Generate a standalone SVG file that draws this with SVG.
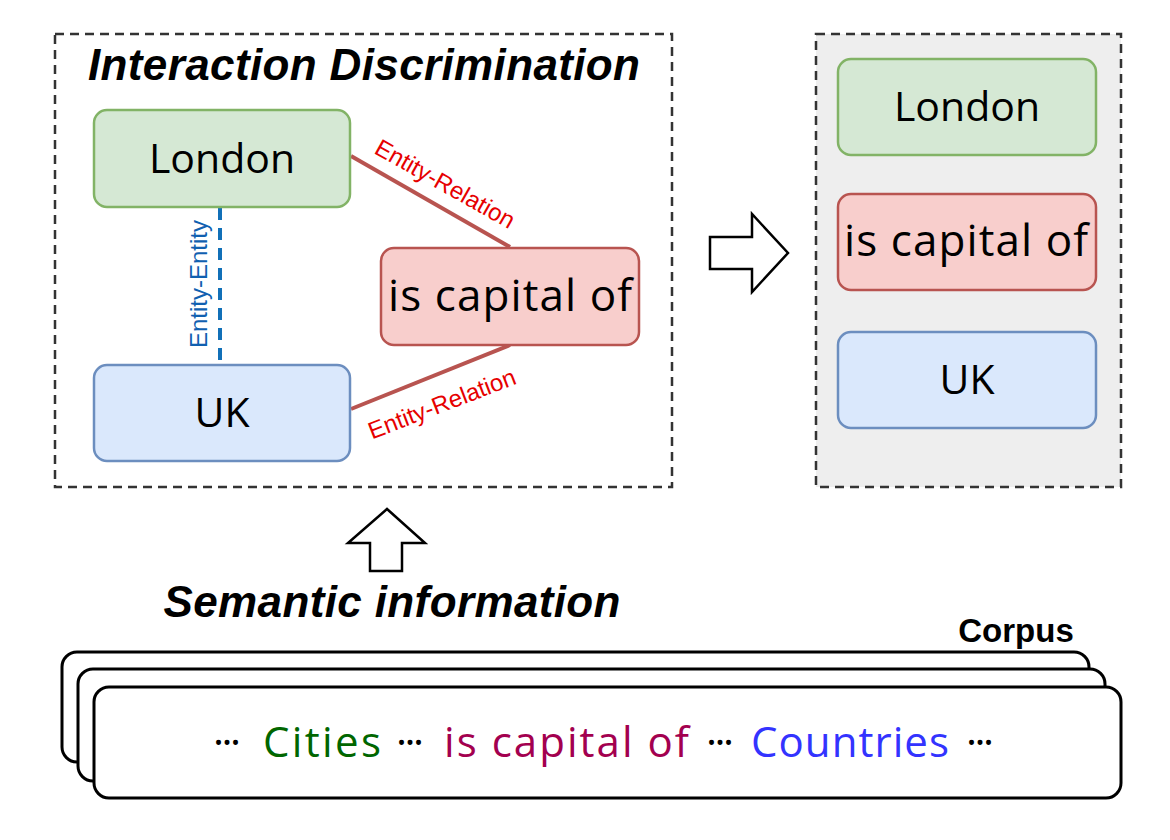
<svg xmlns="http://www.w3.org/2000/svg" width="1170" height="840" viewBox="0 0 1170 840">
<style>
.frame{fill:none;stroke:#333;stroke-width:2.5;stroke-dasharray:9 6}
.green{fill:#d5e8d4;stroke:#82b366;stroke-width:2.5}
.red{fill:#f8cecc;stroke:#b85450;stroke-width:2.5}
.blue{fill:#dae8fc;stroke:#6c8ebf;stroke-width:2.5}
.node{font-family:"Open Sans","Noto Sans",sans-serif;font-size:41px;fill:#000;text-anchor:middle}
.big{font-size:44px}
.head{font-family:"Liberation Sans",Arial,sans-serif;font-weight:bold;font-style:italic;font-size:44px;fill:#000;text-anchor:middle}
.elab{font-family:"Liberation Sans",Arial,sans-serif;font-size:24px;text-anchor:middle}
.arrow{fill:#fff;stroke:#000;stroke-width:2.5;stroke-linejoin:miter}
.sheet{fill:#fff;stroke:#000;stroke-width:3}
.corp{font-family:"Open Sans","Noto Sans",sans-serif;font-size:42px}
</style>
<rect width="1170" height="840" fill="#fff"/>

<g id="left-frame">
<rect class="frame" x="55" y="34" width="617" height="453"/>
<text class="head" x="364" y="80" textLength="552">Interaction Discrimination</text>
</g>

<g id="connectors">
<line x1="351" y1="156" x2="510" y2="247" stroke="#b85450" stroke-width="4"/>
<line x1="351" y1="409" x2="510" y2="345" stroke="#b85450" stroke-width="4"/>
<line x1="220" y1="208" x2="220" y2="365" stroke="#1170b8" stroke-width="4" stroke-dasharray="12 8"/>
<text class="elab" fill="#e60000" transform="translate(445 184) rotate(29.4)" y="8">Entity-Relation</text>
<text class="elab" fill="#e60000" transform="translate(442 404) rotate(-21)" y="8">Entity-Relation</text>
<text class="elab" fill="#1060b0" transform="translate(199 284) rotate(-90)" y="8">Entity-Entity</text>
</g>

<g id="london">
<rect class="green" x="94" y="110" width="256" height="97" rx="13"/>
<text class="node" x="222" y="173">London</text>
</g>
<g id="uk">
<rect class="blue" x="94" y="365" width="256" height="96" rx="13"/>
<text class="node" x="222" y="427">UK</text>
</g>
<g id="is-capital-of">
<rect class="red" x="381" y="248" width="258" height="97" rx="13"/>
<text class="node big" x="510" y="311" textLength="244">is capital of</text>
</g>

<g id="arrow-right">
<polygon class="arrow" points="710,237 752,237 752,214 788,253 752,292 752,269 710,269"/>
</g>

<g id="right-frame">
<rect x="816" y="34" width="305" height="453" fill="#eeeeee" stroke="#333" stroke-width="2.5" stroke-dasharray="9 6"/>
</g>
<g id="r-london">
<rect class="green" x="838" y="59" width="258" height="96" rx="13"/>
<text class="node" x="967" y="121">London</text>
</g>
<g id="r-is-capital-of">
<rect class="red" x="838" y="194" width="258" height="96" rx="13"/>
<text class="node big" x="966" y="256" textLength="244">is capital of</text>
</g>
<g id="r-uk">
<rect class="blue" x="838" y="332" width="258" height="96" rx="13"/>
<text class="node" x="967" y="394">UK</text>
</g>

<g id="arrow-up">
<polygon class="arrow" points="387,509 425,543 402,543 402,571 370,571 370,543 348,543"/>
</g>
<text class="head" x="392" y="617" textLength="457">Semantic information</text>

<g id="corpus">
<text x="1016" y="642" font-family="Liberation Sans, Arial, sans-serif" font-weight="bold" font-size="33" text-anchor="middle">Corpus</text>
<rect class="sheet" x="62" y="652" width="1027" height="110" rx="15"/>
<rect class="sheet" x="78" y="669" width="1027" height="112" rx="15"/>
<rect class="sheet" x="94" y="687" width="1027" height="111" rx="15"/>
<text class="corp" y="757">
<tspan x="213" fill="#000" textLength="28">···</tspan>
<tspan x="263" fill="#006600" textLength="118">Cities</tspan>
<tspan x="396" fill="#000" textLength="28">···</tspan>
<tspan x="444" fill="#a3004f" textLength="245">is capital of</tspan>
<tspan x="706" fill="#000" textLength="28">···</tspan>
<tspan x="751" fill="#3333ff" textLength="198">Countries</tspan>
<tspan x="966" fill="#000" textLength="28">···</tspan>
</text>
</g>
</svg>
